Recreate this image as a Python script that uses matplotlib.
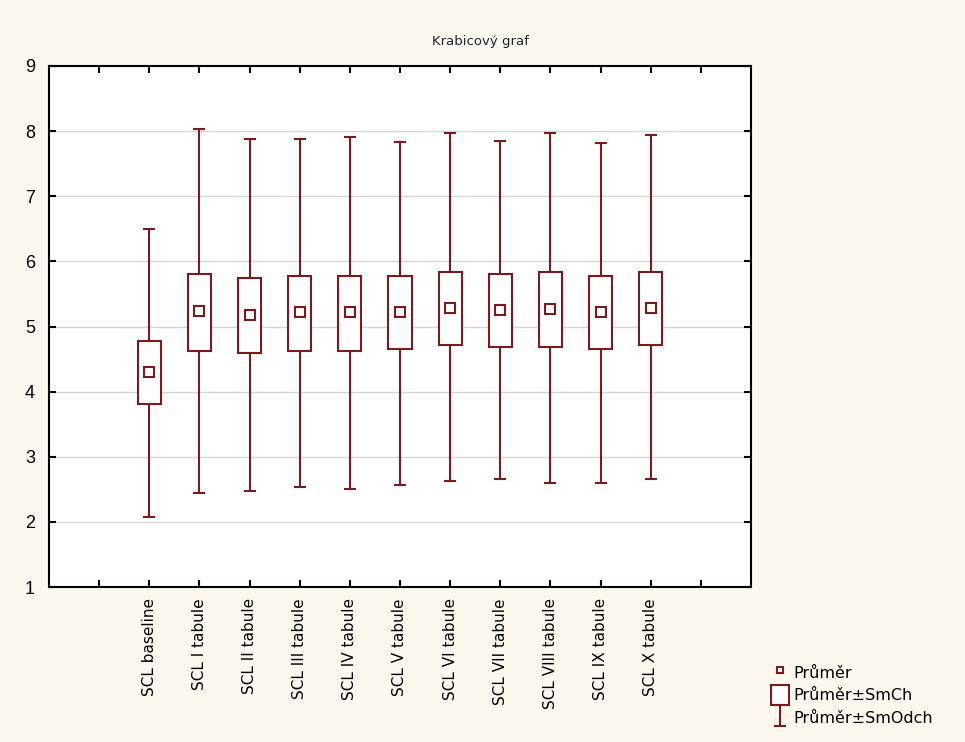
import matplotlib.pyplot as plt
import numpy as np
from matplotlib.legend_handler import HandlerErrorbar
from matplotlib.lines import Line2D
from matplotlib.patches import Rectangle

# values (mean, mean±SE box, mean±SD whiskers)
labels = ["SCL baseline", "SCL I tabule", "SCL II tabule", "SCL III tabule",
          "SCL IV tabule", "SCL V tabule", "SCL VI tabule", "SCL VII tabule",
          "SCL VIII tabule", "SCL IX tabule", "SCL X tabule"]
means = [4.30, 5.24, 5.17, 5.22, 5.22, 5.22, 5.29, 5.25, 5.27, 5.22, 5.29]
box_lo = [3.81, 4.63, 4.59, 4.63, 4.63, 4.66, 4.72, 4.68, 4.68, 4.66, 4.71]
box_hi = [4.78, 5.81, 5.75, 5.78, 5.78, 5.78, 5.84, 5.81, 5.84, 5.78, 5.84]
whisk_lo = [2.08, 2.45, 2.47, 2.54, 2.50, 2.56, 2.62, 2.66, 2.59, 2.59, 2.66]
whisk_hi = [6.50, 8.03, 7.88, 7.88, 7.91, 7.84, 7.97, 7.85, 7.97, 7.82, 7.94]

RED = "#7a1c1f"
BG = "#fdf8ee"

plt.rcParams["font.family"] = ["Liberation Sans", "DejaVu Sans"]

fig = plt.figure(figsize=(9.65, 7.42), dpi=100, facecolor=BG)
ax = fig.add_axes([49 / 965, 1 - 587 / 742, (751 - 49) / 965, (587 - 66) / 742])
ax.set_facecolor("white")

x = np.arange(len(labels))
m = np.array(means)
yerr = [m - np.array(whisk_lo), np.array(whisk_hi) - m]

eb = ax.errorbar(x, m, yerr=yerr, fmt="none", ecolor=RED, elinewidth=1.5,
                 capsize=4, capthick=1.5, zorder=2)
ax.bar(x, np.array(box_hi) - np.array(box_lo), bottom=box_lo, width=0.46,
       facecolor="white", edgecolor=RED, linewidth=1.5, zorder=3)
ax.plot(x, m, "s", mfc="white", mec=RED, ms=6.5, mew=1.5, zorder=4)

ax.set_xlim(-2, 12)
ax.set_ylim(1, 9)
ax.set_yticks(range(1, 10))
ax.set_xticks(range(-1, 12))
ax.set_xticklabels([""] + labels + [""], rotation=90, fontsize=11,
                   family=["DejaVu Sans"])
ax.tick_params(axis="x", direction="in", length=5, width=1.5, top=True, pad=8)
ax.tick_params(axis="y", direction="in", length=5, width=1.5, right=True,
               labelsize=13, pad=10)
ax.grid(axis="y", color="#d6d6d6", linewidth=1)
ax.set_axisbelow(True)
for s in ax.spines.values():
    s.set_linewidth(1.5)

fig.text(480 / 965, 1 - 42 / 742, "Krabicový graf", ha="center", va="center",
         fontsize=9.5, family=["DejaVu Sans"], color="#222233")

h_mean = Line2D([], [], marker="s", ls="none", mfc="white", mec=RED, ms=5, mew=1.5)
h_box = Rectangle((0, 0), 1, 1, facecolor="white", edgecolor=RED, linewidth=1.5)
fig.legend([h_mean, h_box, eb], ["Průměr", "Průměr±SmCh", "Průměr±SmOdch"],
           handler_map={type(eb): HandlerErrorbar(yerr_size=0.65)},
           loc="lower left", bbox_to_anchor=(757 / 965, 0 / 742), frameon=False,
           prop={"family": "DejaVu Sans", "size": 11.5},
           handlelength=1.1, handleheight=1.5, handletextpad=0.25,
           labelspacing=0.2)

fig.savefig("out.png", dpi=100, facecolor=BG)
